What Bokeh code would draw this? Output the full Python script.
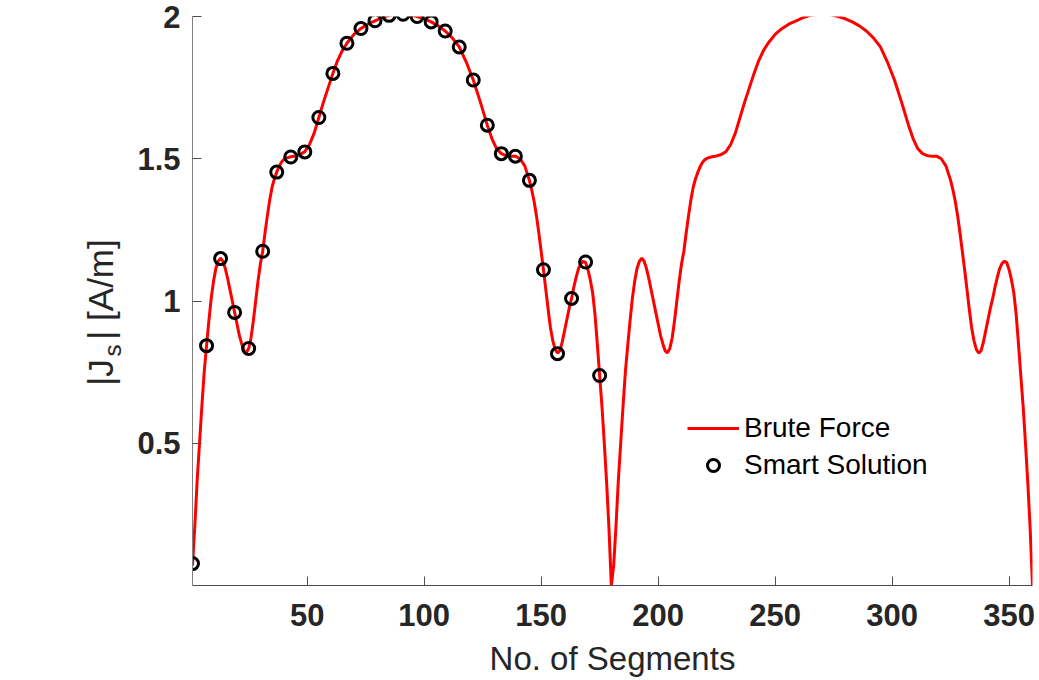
from bokeh.plotting import figure
from bokeh.models import Range1d, FixedTicker, Legend, LegendItem
from bokeh.layouts import row
from bokeh.core.properties import value
from bokeh.embed import file_html
from bokeh.resources import INLINE
import math

# ---------------- data ----------------
bf_x_first = [1, 2, 3, 4, 5, 6, 7, 8, 9, 10, 11, 12, 13, 14, 15, 16, 17, 18, 19, 20,
              21, 22, 23, 24, 25, 26, 27, 28, 29, 30, 31, 32, 33, 34, 35, 36, 37, 38, 39, 40,
              41, 43, 45, 47, 49, 51, 53, 55, 57, 59, 61, 63, 65, 67, 70, 73, 76, 79, 82, 85,
              88, 91, 94, 97, 100, 103, 106, 109, 112, 115, 118, 121, 124, 127, 129, 131, 133,
              135, 137, 139, 141, 143, 145, 146, 147, 148, 149, 150, 151, 152, 153, 154, 155,
              156, 157, 158, 159, 160, 161, 162, 163, 164, 165, 166, 167, 168, 169, 170, 171,
              172, 173, 174, 175, 176, 177, 178, 179, 180]
bf_y_first = [0.07, 0.21, 0.37, 0.50, 0.63, 0.75, 0.843, 0.93, 1.01, 1.07, 1.115, 1.14, 1.15,
              1.14, 1.115, 1.08, 1.04, 1.00, 0.96, 0.92, 0.88, 0.85, 0.825, 0.818, 0.833, 0.87,
              0.93, 1.00, 1.07, 1.13, 1.175, 1.24, 1.30, 1.355, 1.40, 1.43, 1.453, 1.473, 1.488,
              1.497, 1.502, 1.507, 1.510, 1.515, 1.525, 1.55, 1.59, 1.645, 1.70, 1.75, 1.80,
              1.845, 1.88, 1.906, 1.937, 1.958, 1.974, 1.985, 1.996, 2.004, 2.008, 2.009, 2.006,
              2.0, 1.992, 1.981, 1.967, 1.949, 1.925, 1.893, 1.84, 1.777, 1.70, 1.618, 1.57,
              1.535, 1.518, 1.511, 1.509, 1.509, 1.50, 1.475, 1.424, 1.39, 1.35, 1.30, 1.24,
              1.175, 1.11, 1.04, 0.97, 0.905, 0.86, 0.83, 0.817, 0.825, 0.855, 0.895, 0.935,
              0.975, 1.009, 1.05, 1.085, 1.115, 1.132, 1.14, 1.135, 1.11, 1.075, 1.03, 0.955,
              0.85, 0.738, 0.63, 0.50, 0.36, 0.20, 0.0]
bf_x_second = [181, 182, 183, 184, 185, 186, 187, 188, 189, 190, 191, 192, 193, 194, 195, 196,
               197, 198, 199, 200, 201, 202, 203, 204, 205, 206, 207, 208, 209, 210, 211, 212,
               213, 214, 215, 216, 217, 218, 219, 220, 221, 223, 225, 227, 229, 231, 233, 235,
               237, 239, 241, 243, 245, 247, 250, 253, 256, 259, 262, 265, 268, 271, 274, 277,
               280, 283, 286, 289, 292, 295, 298, 301, 304, 307, 309, 311, 313, 315, 317, 319,
               321, 323, 325, 326, 327, 328, 329, 330, 331, 332, 333, 334, 335, 336, 337, 338,
               339, 340, 341, 342, 343, 344, 345, 346, 347, 348, 349, 350, 351, 352, 353, 354,
               355, 356, 357, 358, 359, 360]
bf_y_second = [0.07, 0.21, 0.37, 0.50, 0.63, 0.75, 0.843, 0.93, 1.01, 1.07, 1.115, 1.14, 1.15,
               1.14, 1.115, 1.08, 1.04, 1.00, 0.96, 0.92, 0.88, 0.85, 0.825, 0.818, 0.833, 0.87,
               0.93, 1.00, 1.07, 1.13, 1.175, 1.24, 1.30, 1.355, 1.40, 1.43, 1.453, 1.473, 1.488,
               1.497, 1.502, 1.507, 1.510, 1.515, 1.525, 1.55, 1.59, 1.645, 1.70, 1.75, 1.80,
               1.845, 1.88, 1.906, 1.937, 1.958, 1.974, 1.985, 1.996, 2.004, 2.008, 2.009, 2.006,
               2.0, 1.992, 1.981, 1.967, 1.949, 1.925, 1.893, 1.84, 1.777, 1.70, 1.618, 1.57,
               1.535, 1.518, 1.511, 1.509, 1.509, 1.50, 1.475, 1.424, 1.39, 1.35, 1.30, 1.24,
               1.175, 1.11, 1.04, 0.97, 0.905, 0.86, 0.83, 0.817, 0.825, 0.855, 0.895, 0.935,
               0.975, 1.009, 1.05, 1.085, 1.115, 1.132, 1.14, 1.135, 1.11, 1.075, 1.03, 0.955,
               0.85, 0.738, 0.63, 0.50, 0.36, 0.20, 0.0]

smart_x = [1, 7, 13, 19, 25, 31, 37, 43, 49, 55, 61, 67, 73, 79, 85, 91, 97, 103, 109, 115,
           121, 127, 133, 139, 145, 151, 157, 163, 169, 175]
smart_y = [0.077, 0.843, 1.149, 0.960, 0.833, 1.175, 1.453, 1.506, 1.524, 1.645, 1.800, 1.906,
           1.958, 1.985, 2.004, 2.008, 2.000, 1.981, 1.949, 1.893, 1.777, 1.618, 1.518, 1.509,
           1.424, 1.110, 0.815, 1.009, 1.137, 0.738]

x_ticks = [50, 100, 150, 200, 250, 300, 350]
y_ticks = [0.5, 1, 1.5, 2]
y_tick_labels = ["0.5", "1", "1.5", "2"]

series_names = ["Brute Force", "Smart Solution"]
x_title = "No. of Segments"
y_title_parts = ["|J", "s", "| [A/m]"]   # |J_s| [A/m]

bf_x = bf_x_first + bf_x_second
bf_y = bf_y_first + bf_y_second

# ---------------- layout constants ----------------
W, H = 1039, 680
LW = 130                               # width of the strip holding the y title
FL, FR, FT, FB = 192, 1032, 16, 585    # frame edges in page px
X0, X1, Y0, Y1 = 1, 360, 0, 2
TXT = "#262626"
FONT = "Liberation Sans"

# ---------------- y-title strip (its frame lines up with the main frame) ----------------
lab = figure(width=LW, height=H, output_backend="svg", toolbar_location=None,
             x_range=Range1d(0, LW), y_range=Range1d(H - FB, H - FT),
             x_axis_type=None, y_axis_type=None, title=None,
             min_border_left=0, min_border_right=0,
             min_border_top=FT, min_border_bottom=H - FB)
lab.outline_line_color = None
lab.grid.visible = False
lab.background_fill_color = "white"
lab.border_fill_color = "white"

# (centre x, centre y) in page px and font size for each part of the title
ylab_layout = [(100, 372, "35px"), (112, 350, "24px"), (100, 289, "35px")]
for txt, (cx, cy, fs) in zip(y_title_parts, ylab_layout):
    lab.text(x=[cx], y=[H - cy], text=[txt], angle=math.pi / 2,
             text_font=value(FONT), text_font_size=value(fs), text_color=TXT,
             text_align="center", text_baseline="middle")

# ---------------- main plot ----------------
p = figure(width=W - LW, height=H, output_backend="svg", toolbar_location=None,
           x_range=Range1d(X0, X1), y_range=Range1d(Y0, Y1),
           min_border_left=FL - LW, min_border_right=W - FR,
           min_border_top=FT, min_border_bottom=H - FB)
p.outline_line_color = None
p.grid.visible = False
p.background_fill_color = "white"
p.border_fill_color = "white"

r_line = p.line(bf_x, bf_y, line_color="#ff0000", line_width=3)
r_sc = p.scatter(smart_x, smart_y, marker="circle", size=12, fill_color=None,
                 line_color="black", line_width=3)

xa = p.xaxis[0]
xa.ticker = FixedTicker(ticks=x_ticks)
xa.major_tick_in = 9
xa.major_tick_out = 0
xa.minor_tick_line_color = None
xa.axis_line_color = "#4d4d4d"
xa.major_tick_line_color = "#4d4d4d"
xa.major_label_text_font = FONT
xa.major_label_text_font_size = "31px"
xa.major_label_text_font_style = "bold"
xa.major_label_text_color = TXT
xa.major_label_standoff = 18
xa.axis_label = x_title
xa.axis_label_text_font = FONT
xa.axis_label_text_font_size = "33px"
xa.axis_label_text_font_style = "normal"
xa.axis_label_text_color = TXT
xa.axis_label_standoff = 11

ya = p.yaxis[0]
ya.ticker = FixedTicker(ticks=y_ticks)
ya.major_label_overrides = {t: s for t, s in zip(y_ticks, y_tick_labels)}
ya.major_tick_in = 9
ya.major_tick_out = 0
ya.minor_tick_line_color = None
ya.axis_line_color = "#808080"
ya.major_tick_line_color = "#4d4d4d"
ya.major_label_text_font = FONT
ya.major_label_text_font_size = "31px"
ya.major_label_text_font_style = "bold"
ya.major_label_text_color = TXT
ya.major_label_standoff = 12

legend = Legend(items=[LegendItem(label=series_names[0], renderers=[r_line]),
                       LegendItem(label=series_names[1], renderers=[r_sc])],
                location=(495, 104), border_line_color=None, background_fill_alpha=0,
                glyph_width=52, glyph_height=30, label_height=32, label_standoff=5,
                padding=0, margin=0, spacing=5,
                label_text_font=FONT, label_text_font_size="28px", label_text_color="black")
p.add_layout(legend)

layout = row(lab, p)
open("out.html", "w").write(file_html(layout, INLINE))
